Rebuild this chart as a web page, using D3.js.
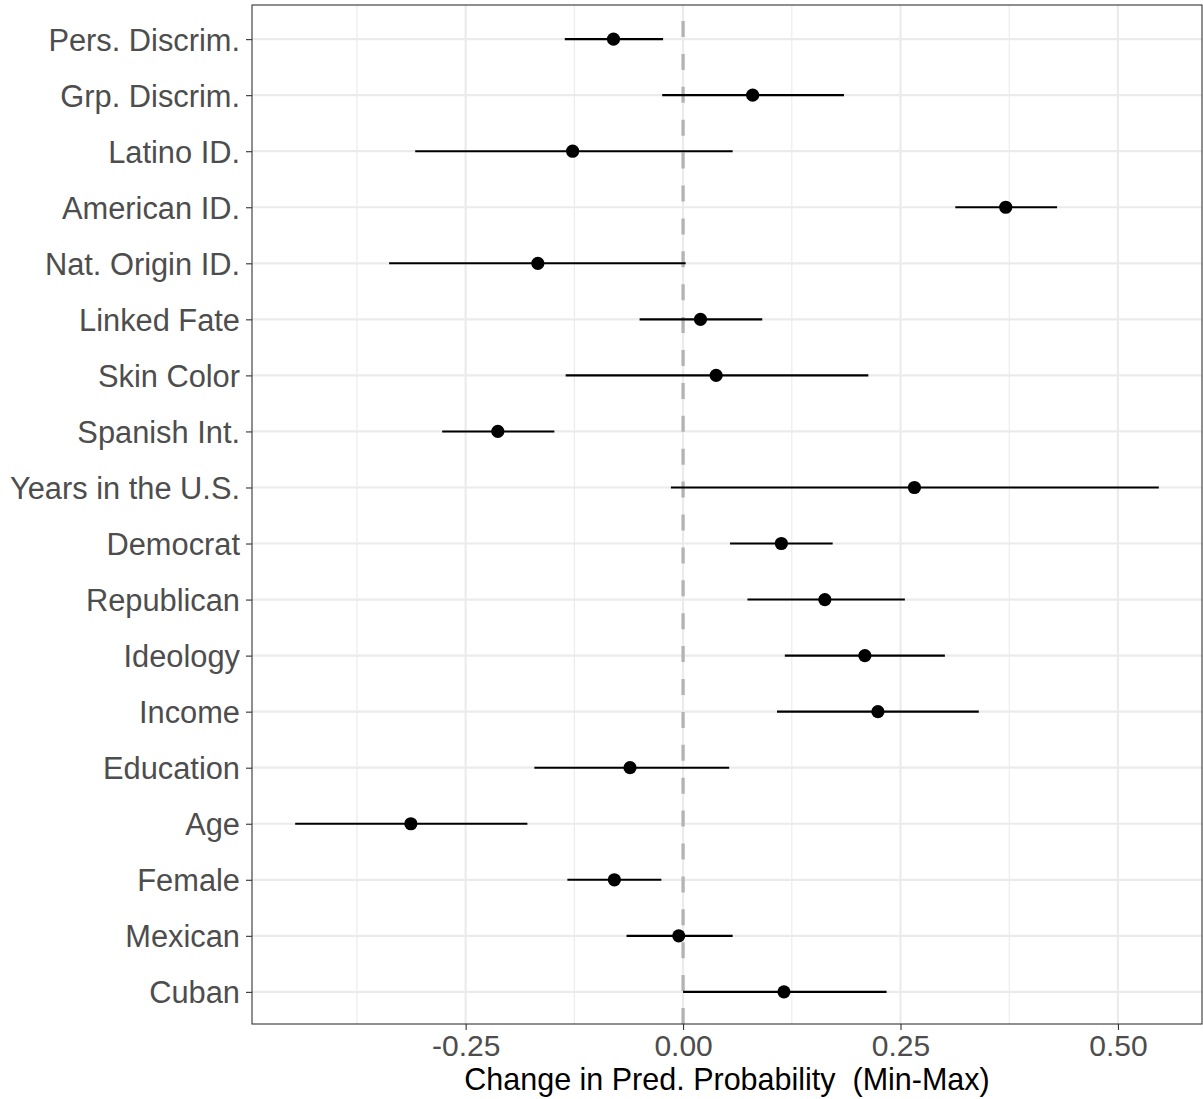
<!DOCTYPE html>
<html>
<head>
<meta charset="utf-8">
<script src="https://cdn.jsdelivr.net/npm/d3@7"></script>
<style>
  html, body { margin: 0; padding: 0; background: #fff; }
  svg { display: block; }
  text { font-family: "Liberation Sans", Arial, Helvetica, sans-serif; }
</style>
</head>
<body>
<svg id="chart" width="1203" height="1099"></svg>
<script>
// Predictors, top to bottom
const terms = [
  "Pers. Discrim.", "Grp. Discrim.", "Latino ID.", "American ID.", "Nat. Origin ID.",
  "Linked Fate", "Skin Color", "Spanish Int.", "Years in the U.S.", "Democrat",
  "Republican", "Ideology", "Income", "Education", "Age", "Female", "Mexican", "Cuban"
];
// Change in predicted probability (min-max) and its interval bounds
const estimate = [
  -0.080, 0.080, -0.127, 0.371, -0.167,
  0.020, 0.038, -0.213, 0.266, 0.113,
  0.163, 0.209, 0.224, -0.061, -0.313, -0.079, -0.005, 0.116
];
const lower = [
  -0.136, -0.024, -0.308, 0.313, -0.338,
  -0.050, -0.135, -0.277, -0.014, 0.054,
  0.074, 0.117, 0.108, -0.171, -0.446, -0.133, -0.065, 0.000
];
const upper = [
  -0.023, 0.185, 0.057, 0.430, 0.003,
  0.091, 0.213, -0.148, 0.547, 0.172,
  0.255, 0.301, 0.340, 0.053, -0.179, -0.025, 0.057, 0.234
];
const xTicks = [-0.25, 0, 0.25, 0.5];
const xMinor = [-0.375, -0.125, 0.125, 0.375];

const rows = terms.map((t, i) => ({ term: t, est: estimate[i], lo: lower[i], hi: upper[i] }));

const svg = d3.select("#chart");
const panel = { left: 252, right: 1202, top: 5, bottom: 1024 };

// continuous x with 5% expansion on each side
const lo = d3.min(lower), hi = d3.max(upper);
const pad = (hi - lo) * 0.05;
const x = d3.scaleLinear().domain([lo - pad, hi + pad]).range([panel.left, panel.right]);
const y = d3.scalePoint().domain(terms).range([panel.top + 0.5, panel.bottom + 1.5]).padding(0.6);

const g = svg.append("g");

// grid
g.selectAll("line.minor").data(xMinor).join("line")
  .attr("x1", d => x(d)).attr("x2", d => x(d))
  .attr("y1", panel.top).attr("y2", panel.bottom)
  .attr("stroke", "#ebebeb").attr("stroke-width", 1.1);
g.selectAll("line.vmajor").data(xTicks).join("line")
  .attr("x1", d => x(d)).attr("x2", d => x(d))
  .attr("y1", panel.top).attr("y2", panel.bottom)
  .attr("stroke", "#ebebeb").attr("stroke-width", 2.2);
g.selectAll("line.hmajor").data(terms).join("line")
  .attr("x1", panel.left).attr("x2", panel.right)
  .attr("y1", d => y(d)).attr("y2", d => y(d))
  .attr("stroke", "#ebebeb").attr("stroke-width", 2.2);

// reference line at zero, dashed from the bottom up
g.append("line")
  .attr("x1", x(0)).attr("x2", x(0))
  .attr("y1", panel.bottom).attr("y2", panel.top)
  .attr("stroke", "#b3b3b3").attr("stroke-width", 3.3)
  .attr("stroke-dasharray", "16,16.9");

// intervals
g.selectAll("line.ci").data(rows).join("line")
  .attr("x1", d => x(d.lo)).attr("x2", d => x(d.hi))
  .attr("y1", d => y(d.term)).attr("y2", d => y(d.term))
  .attr("stroke", "#000").attr("stroke-width", 2.1);

// point estimates
g.selectAll("circle").data(rows).join("circle")
  .attr("cx", d => x(d.est)).attr("cy", d => y(d.term))
  .attr("r", 6.6).attr("fill", "#000");

// panel border
g.append("rect")
  .attr("x", panel.left).attr("y", panel.top)
  .attr("width", panel.right - panel.left).attr("height", panel.bottom - panel.top)
  .attr("fill", "none").attr("stroke", "#333").attr("stroke-width", 1.1);

// axes
const xAxis = d3.axisBottom(x).tickValues(xTicks).tickSize(6).tickPadding(6)
  .tickFormat(d3.format(".2f"));
const xg = svg.append("g").attr("transform", `translate(0,${panel.bottom})`).call(xAxis);
xg.select(".domain").remove();
xg.selectAll(".tick line").attr("stroke", "#333").attr("stroke-width", 1.1);
xg.selectAll(".tick text").attr("fill", "#4d4d4d").attr("font-size", 30)
  .attr("font-family", "Liberation Sans, Arial, sans-serif")
  .attr("y", 32).attr("dy", 0).text(d => d3.format(".2f")(d).replace("−", "-"));

const yAxis = d3.axisLeft(y).tickSize(6).tickPadding(6);
const yg = svg.append("g").attr("transform", `translate(${panel.left},0)`).call(yAxis);
yg.select(".domain").remove();
yg.selectAll(".tick line").attr("stroke", "#333").attr("stroke-width", 1.1);
yg.selectAll(".tick text").attr("fill", "#4d4d4d").attr("font-size", 30.8)
  .attr("font-family", "Liberation Sans, Arial, sans-serif")
  .attr("dy", "0.36em");

// axis title
svg.append("text")
  .attr("x", (panel.left + panel.right) / 2 + 0)
  .attr("y", 1090)
  .attr("text-anchor", "middle")
  .attr("font-size", 30.5)
  .attr("fill", "#000")
  .attr("xml:space", "preserve")
  .style("white-space", "pre")
  .text("Change in Pred. Probability  (Min-Max)");
</script>
</body>
</html>
